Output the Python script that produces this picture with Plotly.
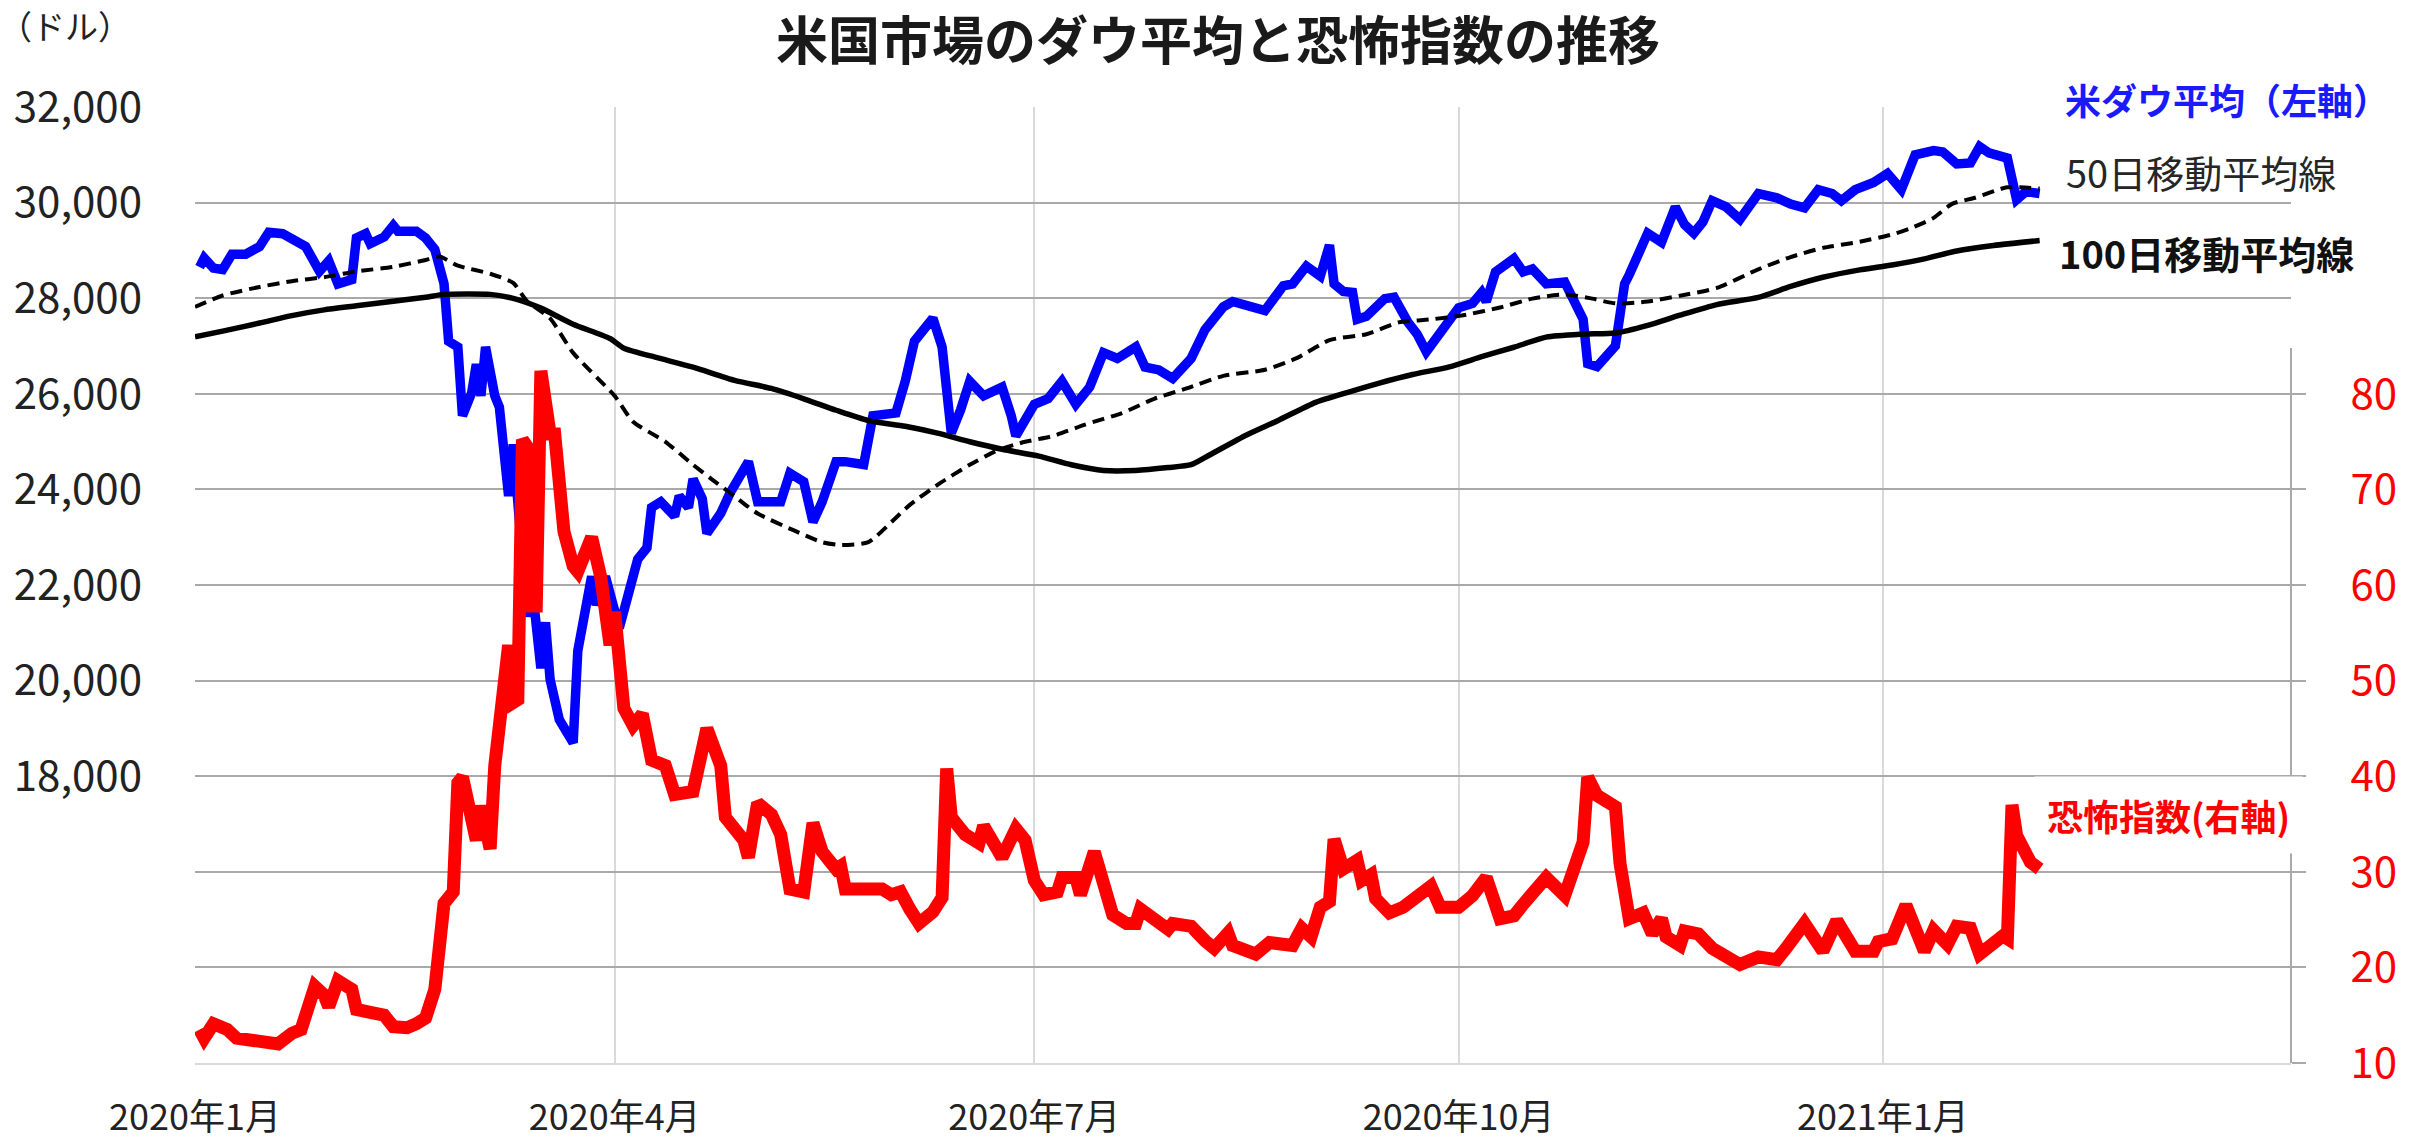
import pandas as pd
import plotly.graph_objects as go

BASE_DATE = "2020-01-01"

# ---- Dow Jones average (left axis) : day offset from 2020-01-01, value ----
dow_day = [1, 2, 4, 6, 8, 11, 14, 16, 19, 22, 24, 27, 29, 31, 34, 35, 37, 38, 41, 43,
           44, 48, 50, 52, 54, 55, 57, 58, 60, 61, 62, 63, 65, 66, 68, 69, 71, 72, 73, 75,
           76, 77, 79, 81, 82, 83, 84, 86, 87, 89, 92, 94, 96, 98, 99, 101, 104, 105, 107, 108,
           110, 111, 114, 116, 120, 122, 127, 129, 132, 134, 136, 139, 141, 145, 147, 152, 154, 156, 160, 162,
           164, 166, 168, 171, 175, 177, 178, 182, 185, 188, 191, 194, 197, 200, 204, 206, 209, 212, 216, 219,
           223, 225, 227, 232, 236, 238, 241, 244, 246, 247, 249, 251, 252, 254, 258, 260, 263, 265, 267, 270,
           272, 274, 277, 279, 280, 282, 286, 288, 290, 293, 297, 299, 301, 302, 304, 308, 310, 311, 315, 318,
           321, 323, 325, 327, 329, 332, 335, 339, 343, 346, 349, 352, 355, 357, 360, 364, 367, 370, 373, 377,
           379, 382, 385, 387, 389, 393, 394, 395, 397, 400]
dow = [28650, 28840, 28630, 28600, 28920, 28920, 29080, 29380, 29350, 29200, 29080, 28560, 28780, 28300, 28390, 29260, 29350, 29140, 29280, 29520,
       29400, 29400, 29260, 29020, 28300, 27100, 26980, 25540, 26020, 26620, 25960, 26980, 25960, 25720, 23860, 24940, 22540, 21340, 22060, 20260,
       21220, 20020, 19180, 18820, 18700, 20620, 21100, 22180, 21580, 22180, 21100, 21820, 22540, 22780, 23620, 23740, 23440, 23860, 23620, 24220,
       23800, 23080, 23500, 23920, 24580, 23740, 23740, 24340, 24160, 23320, 23740, 24580, 24580, 24520, 25540, 25600, 26260, 27100, 27580, 26980,
       25180, 25660, 26260, 25960, 26140, 25540, 25120, 25780, 25900, 26260, 25780, 26140, 26860, 26740, 26980, 26560, 26500, 26320, 26740, 27340,
       27820, 27930, 27890, 27740, 28260, 28300, 28670, 28460, 29110, 28300, 28140, 28120, 27560, 27620, 27990, 28020, 27500, 27250, 26880, 27310,
       27560, 27800, 27890, 28120, 27930, 28550, 28830, 28550, 28610, 28300, 28340, 27990, 27560, 26630, 26570, 27000, 28300, 28490, 29360, 29170,
       29910, 29540, 29360, 29600, 30040, 29910, 29650, 30190, 30100, 29970, 29890, 30270, 30190, 30040, 30270, 30420, 30610, 30270, 31000, 31090,
       31060, 30810, 30830, 31170, 31040, 30930, 30550, 30060, 30230, 30190]

# ---- 50-day moving average ----
ma50_day = [0, 6, 14, 21, 28, 35, 43, 50, 53, 57, 64, 69, 72, 77, 82, 91, 95, 102, 108, 112,
            117, 122, 130, 136, 140, 146, 151, 155, 161, 168, 174, 180, 186, 193, 201, 208, 215, 223,
            232, 239, 246, 254, 261, 268, 275, 283, 290, 297, 303, 308, 315, 322, 330,
            339, 346, 353, 361, 368, 372, 377, 381, 386, 393, 400]
ma50 = [27816, 28056, 28236, 28356, 28440, 28560, 28656, 28800, 28872, 28680, 28512, 28320, 27936, 27576, 26856, 25956, 25416, 24996, 24516, 24216,
        23856, 23496, 23136, 22896, 22836, 22896, 23316, 23676, 24096, 24516, 24816, 24996, 25116, 25356, 25596, 25896, 26112, 26376,
        26503, 26751, 27123, 27247, 27495, 27557, 27644, 27805, 27991, 28078, 27991, 27892, 27929, 28053, 28214,
        28605, 28861, 29053, 29181, 29334, 29462, 29680, 29974, 30102, 30320, 30294]

# ---- 100-day moving average ----
ma100_day = [0, 6, 14, 21, 28, 35, 43, 50, 54, 64, 69, 75, 82, 90, 93, 100, 108,
             117, 125, 132, 139, 146, 154, 161, 168, 175, 183, 190, 197, 204, 211, 216, 220,
             228, 235, 243, 250, 257, 264, 272, 279, 286, 293, 301, 308, 315, 322, 330,
             339, 346, 353, 361, 368, 375, 382, 390, 400]
ma100 = [27192, 27312, 27480, 27636, 27756, 27840, 27936, 28020, 28080, 28080, 27996, 27792, 27456, 27156, 26952, 26760, 26556,
         26280, 26112, 25896, 25656, 25440, 25320, 25176, 24996, 24840, 24696, 24516, 24396, 24396, 24456, 24516, 24720,
         25139, 25449, 25821, 26032, 26230, 26404, 26565, 26776, 26974, 27185, 27247, 27272, 27433, 27644, 27867,
         28016, 28246, 28438, 28592, 28694, 28822, 28989, 29104, 29206]

# ---- Fear index (VIX, right axis) ----
vix_day = [1, 2, 4, 7, 9, 14, 18, 21, 23, 26, 28, 29, 31, 34, 35, 38, 41, 43, 46, 48,
           50, 52, 54, 56, 57, 58, 61, 62, 64, 65, 68, 69, 70, 71, 72, 73, 74, 75, 77, 78,
           80, 82, 83, 85, 86, 88, 90, 91, 93, 95, 97, 99, 102, 104, 108, 111, 114, 115, 119, 120,
           122, 125, 127, 129, 132, 134, 136, 139, 140, 141, 144, 149, 151, 153, 155, 157, 160, 162, 163, 164,
           167, 170, 171, 174, 175, 178, 180, 182, 184, 187, 188, 191, 192, 195, 197, 198, 199, 202, 204, 205,
           209, 211, 212, 216, 219, 221, 224, 225, 230, 233, 238, 240, 242, 244, 246, 247, 249, 252, 253, 255,
           256, 259, 262, 265, 268, 270, 274, 277, 280, 283, 286, 288, 293, 297, 300, 301, 302, 304, 308, 309,
           311, 314, 316, 318, 319, 322, 323, 326, 329, 332, 334, 335, 339, 343, 345, 349, 353, 356, 360, 364,
           365, 368, 371, 375, 377, 380, 382, 385, 387, 392, 393, 394, 395, 398, 400]
vix = [13.5, 12.6, 14.1, 13.5, 12.6, 12.3, 12.0, 13.1, 13.5, 18.0, 17.1, 15.9, 18.6, 17.7, 15.6, 15.3, 15.0, 13.8, 13.7, 14.1,
       14.7, 17.7, 26.7, 27.9, 39.3, 39.9, 33.3, 36.9, 32.4, 41.1, 53.7, 47.7, 48.0, 75.2, 74.5, 57.8, 57.8, 82.4, 75.8, 75.8,
       65.6, 62.0, 61.4, 63.8, 65.0, 60.8, 53.7, 57.2, 47.1, 45.3, 46.5, 41.7, 41.1, 38.1, 38.4, 45.0, 41.1, 35.7, 33.3, 31.5,
       37.2, 36.0, 33.9, 28.2, 27.9, 35.1, 32.1, 30.3, 30.6, 28.2, 28.2, 28.2, 27.6, 27.9, 26.1, 24.6, 25.8, 27.3, 40.8, 35.7,
       33.9, 33.0, 34.8, 31.8, 31.5, 34.5, 33.3, 29.1, 27.6, 27.9, 29.4, 29.4, 27.6, 32.1, 28.5, 27.3, 25.5, 24.6, 24.6, 26.1,
       24.9, 24.0, 24.6, 24.3, 22.8, 22.0, 23.6, 22.3, 21.4, 22.6, 22.3, 24.1, 23.2, 26.3, 26.9, 33.4, 30.3, 31.2, 29.1, 29.7,
       27.2, 25.7, 26.3, 27.5, 28.5, 26.3, 26.3, 27.5, 29.4, 25.1, 25.4, 26.6, 29.4, 27.5, 32.2, 33.1, 39.9, 38.0, 36.8, 30.9,
       25.1, 25.7, 23.5, 25.1, 23.2, 22.3, 23.8, 23.5, 22.0, 21.0, 20.7, 20.3, 21.1, 20.8, 22.0, 24.6, 21.7, 24.9, 21.7, 21.7,
       22.7, 23.0, 26.5, 21.7, 23.9, 22.4, 24.3, 24.1, 21.4, 23.3, 23.0, 37.0, 33.8, 31.0, 30.3]

# ---- axis ticks ----
x_tickvals = ["2020-01-01", "2020-04-01", "2020-07-01", "2020-10-01", "2021-01-01"]
x_ticktext = ["2020年1月", "2020年4月", "2020年7月", "2020年10月", "2021年1月"]
left_tickvals = [14000, 16000, 18000, 20000, 22000, 24000, 26000, 28000, 30000, 32000]
left_ticktext = ["", "", "18,000", "20,000", "22,000", "24,000", "26,000", "28,000", "30,000", "32,000"]
right_tickvals = [10, 20, 30, 40, 50, 60, 70, 80]


def to_dates(days):
    return pd.Timestamp(BASE_DATE) + pd.to_timedelta(days, unit="D")


FONT = "Noto Sans CJK JP, Noto Sans, sans-serif"
TXT = "#222222"
HGRID = "#a9a9a9"
VGRID = "#d9d9d9"

fig = go.Figure()
fig.add_trace(go.Scatter(x=to_dates(dow_day), y=dow, mode="lines", name="米ダウ平均",
                         line=dict(color="#0000ff", width=9.5)))
fig.add_trace(go.Scatter(x=to_dates(ma50_day), y=ma50, mode="lines", name="50日移動平均線",
                         line=dict(color="#000000", width=4, dash="12px,7px", shape="spline", smoothing=0.6)))
fig.add_trace(go.Scatter(x=to_dates(ma100_day), y=ma100, mode="lines", name="100日移動平均線",
                         line=dict(color="#000000", width=5.5, shape="spline", smoothing=0.6)))
fig.add_trace(go.Scatter(x=to_dates(vix_day), y=vix, mode="lines", name="恐怖指数", yaxis="y2",
                         line=dict(color="#ff0000", width=13)))

fig.update_layout(
    width=2410, height=1143,
    margin=dict(l=195, r=119, t=107, b=80),
    paper_bgcolor="white", plot_bgcolor="white",
    showlegend=False,
    font=dict(family=FONT, color=TXT),
    xaxis=dict(type="date", range=["2020-01-01", "2021-03-30 12:00"],
               tickvals=x_tickvals, ticktext=x_ticktext,
               showgrid=True, gridcolor=VGRID, gridwidth=2,
               ticks="", tickfont=dict(size=36, color=TXT, family=FONT),
               ticklabelstandoff=22,
               showline=True, linecolor=VGRID, linewidth=2,
               zeroline=False, automargin=False),
    yaxis=dict(range=[12000, 32000], tickvals=left_tickvals, ticktext=left_ticktext,
               showgrid=True, gridcolor=HGRID, gridwidth=2,
               ticks="", tickfont=dict(size=42, color=TXT, family=FONT),
               ticklabelstandoff=52,
               showline=False, zeroline=False, automargin=False),
    yaxis2=dict(overlaying="y", side="right", range=[10, 110], tickvals=right_tickvals,
                showgrid=False, ticks="outside", ticklen=14, tickwidth=2, tickcolor=HGRID,
                tickfont=dict(size=42, color="#ff0000", family=FONT),
                ticklabelstandoff=36,
                showline=False, zeroline=False, automargin=False),
)

# right axis line (only spanning the lower part, like the reference)
fig.add_shape(type="line", xref="paper", yref="y2", x0=1, x1=1, y0=10, y1=84.8,
              line=dict(color=HGRID, width=2), layer="below")

annos = [
    dict(text="<b>米国市場のダウ平均と恐怖指数の推移</b>", x=0.488, y=1.073, xanchor="center", yanchor="middle",
         font=dict(size=52, color="#1a1a1a")),
    dict(text="（ドル）", x=-0.062, y=1.086, xanchor="center", yanchor="middle",
         font=dict(size=33, color=TXT)),
    dict(text="<b>米ダウ平均（左軸）</b>", x=0.889, y=1.0084, xanchor="left", yanchor="middle",
         font=dict(size=36, color="#1a1aff"), bgcolor="white", borderpad=6),
    dict(text="50日移動平均線", x=0.8915, y=0.933, xanchor="left", yanchor="middle",
         font=dict(size=38, color="#262626")),
    dict(text="<b>100日移動平均線</b>", x=0.8885, y=0.848, xanchor="left", yanchor="middle",
         font=dict(size=38, color="#111111")),
    dict(text="<b>恐怖指数(右軸)</b>", x=0.8775, y=0.2594, xanchor="left", yanchor="middle",
         font=dict(size=36, color="#ff0000"), bgcolor="white", borderpad=12),
]
for a in annos:
    fig.add_annotation(xref="paper", yref="paper", showarrow=False, **a)

# remove the default 8px page margin so the 2410x1143 figure fills the window exactly
fig.write_html("out.html",
               config={"displayModeBar": False},
               post_script="document.body.style.margin='0';document.body.style.overflow='hidden';")
